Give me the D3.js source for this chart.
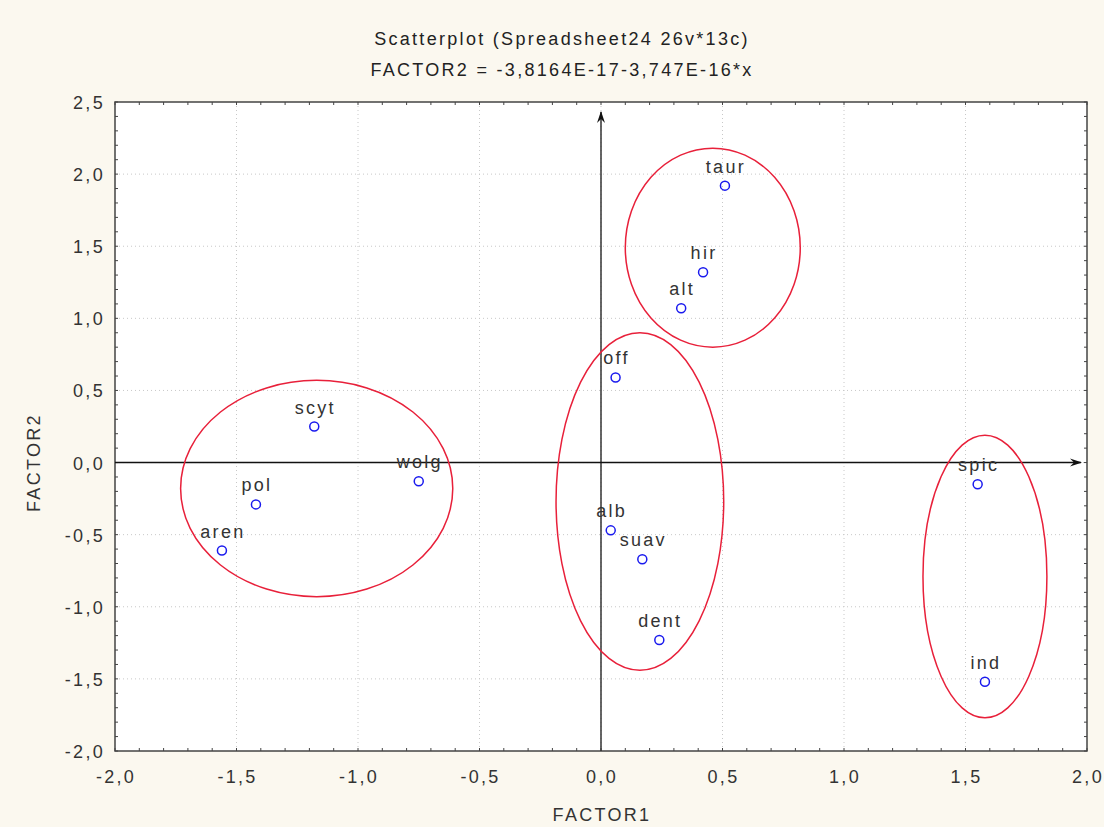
<!DOCTYPE html>
<html><head><meta charset="utf-8">
<script src="https://cdn.jsdelivr.net/npm/d3@7"></script>
<style>
html,body{margin:0;padding:0;background:#fbf8ef;}
svg{display:block;font-family:"Liberation Sans",Arial,sans-serif;}
</style></head><body>
<svg id="c" width="1104" height="827"></svg>
<script>
const labels = ["taur","hir","alt","off","scyt","wolg","pol","aren","alb","suav","dent","spic","ind"];
const factor1 = [0.51,0.42,0.33,0.06,-1.18,-0.75,-1.42,-1.56,0.04,0.17,0.24,1.55,1.58];
const factor2 = [1.92,1.32,1.07,0.59,0.25,-0.13,-0.29,-0.61,-0.47,-0.67,-1.23,-0.15,-1.52];
// ellipses: centre x, centre y, radius x, radius y (data units)
const ellCx = [0.46,-1.17,0.16,1.58];
const ellCy = [1.49,-0.18,-0.27,-0.79];
const ellRx = [0.36,0.56,0.345,0.255];
const ellRy = [0.69,0.75,1.17,0.98];
const xTicks = [-2,-1.5,-1,-0.5,0,0.5,1,1.5,2];
const yTicks = [-2,-1.5,-1,-0.5,0,0.5,1,1.5,2,2.5];
const titleLines = ["Scatterplot (Spreadsheet24 26v*13c)","FACTOR2 = -3,8164E-17-3,747E-16*x"];

const svg = d3.select("#c");
const L=115,R=1087,T=102,B=751;
const FS=18, LS=2.3;
const x = d3.scaleLinear().domain([-2,2]).range([L,R]);
const y = d3.scaleLinear().domain([-2,2.5]).range([B,T]);
const fmt = v => d3.format(".1f")(v).replace(".",",").replace("−","-");

svg.append("rect").attr("x",L).attr("y",T).attr("width",R-L).attr("height",B-T).attr("fill","#ffffff");

// grid
const g = svg.append("g");
g.selectAll(".gx").data(xTicks.filter(d=>d>-2&&d<2)).join("line")
 .attr("x1",d=>x(d)).attr("x2",d=>x(d)).attr("y1",T).attr("y2",B)
 .attr("stroke","#c8c8c8").attr("stroke-width",1).attr("stroke-dasharray","1,3");
g.selectAll(".gy").data(yTicks.filter(d=>d>-2&&d<2.5)).join("line")
 .attr("y1",d=>y(d)).attr("y2",d=>y(d)).attr("x1",L).attr("x2",R)
 .attr("stroke","#c8c8c8").attr("stroke-width",1).attr("stroke-dasharray","1,3");

// minor ticks on frame
const xMinor = d3.range(-20,21).map(d=>d/10);
const yMinor = d3.range(-20,26).map(d=>d/10);
const tk = svg.append("g").attr("stroke","#444").attr("stroke-width",1);
xMinor.forEach(v=>{
  tk.append("line").attr("x1",x(v)).attr("x2",x(v)).attr("y1",B).attr("y2",B-3);
  tk.append("line").attr("x1",x(v)).attr("x2",x(v)).attr("y1",T).attr("y2",T+3);
});
yMinor.forEach(v=>{
  tk.append("line").attr("y1",y(v)).attr("y2",y(v)).attr("x1",L).attr("x2",L+3);
  tk.append("line").attr("y1",y(v)).attr("y2",y(v)).attr("x1",R).attr("x2",R-3);
});

// frame
svg.append("rect").attr("x",L).attr("y",T).attr("width",R-L).attr("height",B-T)
 .attr("fill","none").attr("stroke","#444").attr("stroke-width",1.5);

// arrow markers
const defs = svg.append("defs");
defs.append("marker").attr("id","arr").attr("viewBox","0 0 12 10").attr("refX",11).attr("refY",5)
 .attr("markerWidth",12).attr("markerHeight",10).attr("markerUnits","userSpaceOnUse").attr("orient","auto")
 .append("path").attr("d","M0,1 L12,5 L0,9 L4,5 Z").attr("fill","#111");

// zero axes
svg.append("line").attr("x1",x(0)).attr("x2",x(0)).attr("y1",B).attr("y2",T+10)
 .attr("stroke","#333").attr("stroke-width",1.5).attr("marker-end","url(#arr)");
svg.append("line").attr("x1",L).attr("x2",R-6).attr("y1",y(0)).attr("y2",y(0))
 .attr("stroke","#111").attr("stroke-width",1.5).attr("marker-end","url(#arr)");

// ellipses
svg.append("g").selectAll("ellipse").data(ellCx).join("ellipse")
 .attr("cx",(d,i)=>x(ellCx[i])).attr("cy",(d,i)=>y(ellCy[i]))
 .attr("rx",(d,i)=>x(ellRx[i])-x(0)).attr("ry",(d,i)=>y(0)-y(ellRy[i]))
 .attr("fill","none").attr("stroke","#e8203a").attr("stroke-width",1.5);

// points
const pts = svg.append("g");
pts.selectAll("circle").data(labels).join("circle")
 .attr("cx",(d,i)=>x(factor1[i])).attr("cy",(d,i)=>y(factor2[i])).attr("r",4.5)
 .attr("fill","none").attr("stroke","#1a1aee").attr("stroke-width",1.5);
pts.selectAll("text").data(labels).join("text")
 .attr("x",(d,i)=>x(factor1[i])+1).attr("y",(d,i)=>y(factor2[i])-13)
 .attr("text-anchor","middle").attr("font-size",FS).attr("letter-spacing",LS)
 .attr("fill","#333").text(d=>d);

// tick labels
svg.append("g").selectAll("text").data(xTicks).join("text")
 .attr("x",d=>x(d)+1).attr("y",B+32).attr("text-anchor","middle")
 .attr("font-size",FS).attr("letter-spacing",LS).attr("fill","#333").text(fmt);
svg.append("g").selectAll("text").data(yTicks).join("text")
 .attr("x",L-10).attr("y",d=>y(d)+7).attr("text-anchor","end")
 .attr("font-size",FS).attr("letter-spacing",LS).attr("fill","#333").text(fmt);

// titles
svg.append("g").selectAll("text").data(titleLines).join("text")
 .attr("x",x(0)-39).attr("y",(d,i)=>45+i*31).attr("text-anchor","middle")
 .attr("font-size",FS).attr("letter-spacing",LS).attr("fill","#222").text(d=>d);
svg.append("text").attr("x",x(0)+1).attr("y",821).attr("text-anchor","middle")
 .attr("font-size",FS).attr("letter-spacing",LS).attr("fill","#333").text("FACTOR1");
svg.append("text").attr("transform",`translate(40,${y(0)}) rotate(-90)`).attr("text-anchor","middle")
 .attr("font-size",FS).attr("letter-spacing",LS).attr("fill","#333").text("FACTOR2");
</script></body></html>
